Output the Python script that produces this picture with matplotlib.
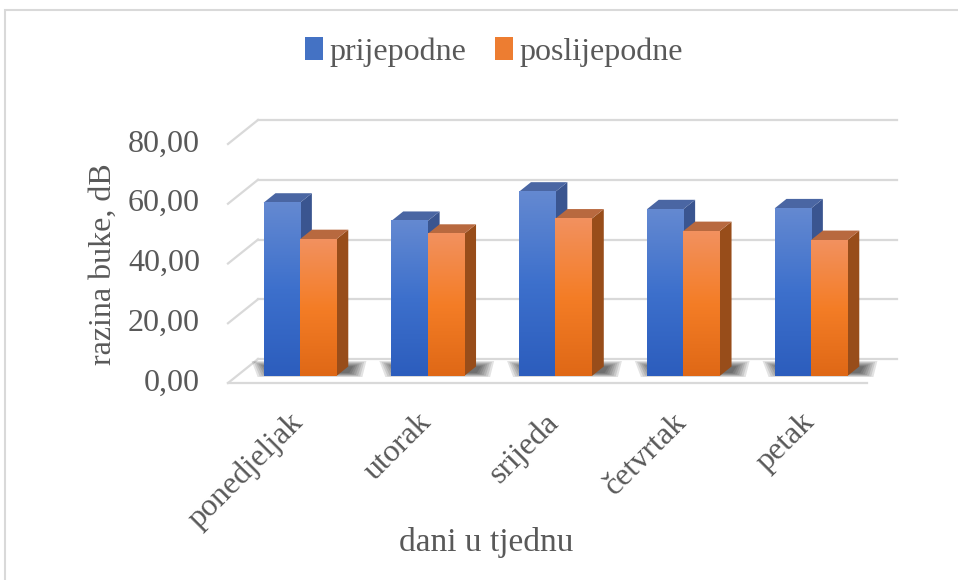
import numpy as np
import matplotlib
matplotlib.use('Agg')
import matplotlib.pyplot as plt
from matplotlib.patches import Polygon, Rectangle, Patch
from matplotlib.colors import LinearSegmentedColormap

# podaci
dani = ['ponedjeljak', 'utorak', 'srijeda', 'četvrtak', 'petak']
prijepodne = [58.0, 51.9, 61.7, 55.8, 56.1]
poslijepodne = [45.8, 47.6, 52.7, 48.5, 45.5]
y_ticks = [0, 20, 40, 60, 80]
y_tick_labels = ['0,00', '20,00', '40,00', '60,00', '80,00']

plt.rcParams['font.family'] = ['Liberation Serif', 'DejaVu Serif']
TXT = '#595959'
GRID = '#d9d9d9'
FS = 23

W, H = 958, 580
fig = plt.figure(figsize=(W / 100, H / 100), dpi=100)
ax = fig.add_axes([0, 0, 1, 1])

# skale: px po jedinici
sx = 127.75
sy = 2.9875
x0px, y0px = 300, 376
ax.set_xlim(-x0px / sx, (W - x0px) / sx)
ax.set_ylim((y0px - H) / sy, y0px / sy)
ax.axis('off')


def depth(d):
    """pomak u dubinu (d px okomito) -> pomak u jedinicama podataka"""
    return d * 1.25 / sx, d / sy


bw = 0.285
bar_dx, bar_dy = depth(9.5)
fl_dx, fl_dy = depth(-7)
wall_dx, wall_dy = depth(17)
left_front = (228 - x0px) / sx
right_front = (867 - x0px) / sx
left_back = left_front + wall_dx - fl_dx
right_back = (897 - x0px) / sx

# zidovi i mreža
for v, lab in zip(y_ticks, y_tick_labels):
    yb = v + wall_dy
    ax.plot([left_back, right_back], [yb, yb], color=GRID, lw=1.6, zorder=1)
    ax.plot([left_front, left_back], [v + fl_dy, yb], color=GRID, lw=1.6, zorder=1)
    ax.text(left_front - 28 / sx, v + fl_dy, lab,
            ha='right', va='center', fontsize=FS, color=TXT)
ax.plot([left_front, right_front], [fl_dy, fl_dy], color=GRID, lw=1.6, zorder=1)

blue_front = LinearSegmentedColormap.from_list('bf', ['#2c5dbd', '#3d70cc', '#6489d1'])
orange_front = LinearSegmentedColormap.from_list('of', ['#df6816', '#f47d26', '#f2915f'])
grad = np.linspace(0, 1, 128).reshape(-1, 1)[::-1]


def shadow(xa, xb):
    # mekana sjena na podu (slojevi)
    for k in range(7):
        e = k * 2.2
        pts = [(xa + (-6 + e) / sx, (-1 + e * 0.3) / sy),
               (xb + (26 - e) / sx, (-1 + e * 0.3) / sy),
               (xb + (30 - e) / sx, (15 - e * 0.4) / sy),
               (xa + (-12 + e) / sx, (15 - e * 0.4) / sy)]
        ax.add_patch(Polygon(pts, closed=True, fc='black', ec='none',
                             alpha=0.11, zorder=2))


def bar3d(xl, v, cmap, side_col, top_col, z):
    xr = xl + bw
    # bočna strana
    ax.add_patch(Polygon([(xr, 0), (xr + bar_dx, bar_dy), (xr + bar_dx, v + bar_dy), (xr, v)],
                         closed=True, fc=side_col, ec='none', zorder=z))
    # gornja strana
    ax.add_patch(Polygon([(xl, v), (xr, v), (xr + bar_dx, v + bar_dy), (xl + bar_dx, v + bar_dy)],
                         closed=True, fc=top_col, ec='none', zorder=z))
    # prednja strana s gradijentom
    ax.imshow(grad, extent=[xl, xr, 0, v], aspect='auto', cmap=cmap,
              interpolation='bilinear', zorder=z + 0.5)


for i in range(len(dani)):
    shadow(i - bw, i + bw)
    bar3d(i - bw, prijepodne[i], blue_front, '#3a5590', '#4a66a3', 3 + i * 2)
    bar3d(i, poslijepodne[i], orange_front, '#984d1a', '#b8693f', 4 + i * 2)

ax.set_xlim(-x0px / sx, (W - x0px) / sx)
ax.set_ylim((y0px - H) / sy, y0px / sy)

# oznake kategorija
for i, d in enumerate(dani):
    ax.text(i - 1 / sx, -42 / sy, d, rotation=45, rotation_mode='anchor',
            ha='right', va='center', fontsize=FS, color=TXT)

fig.text(486 / W, 1 - 542 / H, 'dani u tjednu', ha='center', va='center',
         fontsize=24, color=TXT)
fig.text(103 / W, 1 - 264 / H, 'razina buke, dB', ha='center', va='center',
         rotation=90, fontsize=FS, color=TXT)

handles = [Patch(fc='#4472c4', ec='none'), Patch(fc='#ed7d31', ec='none')]
fig.legend(handles, ['prijepodne', 'poslijepodne'], loc='center',
           bbox_to_anchor=(494 / W, 1 - 52 / H), ncol=2, frameon=False,
           fontsize=FS, handlelength=0.55, handleheight=0.72,
           handletextpad=0.2, columnspacing=0.9, labelcolor=TXT)

fig.add_artist(Rectangle((5 / W, -0.1), 2, 1 - 10 / H + 0.1, transform=fig.transFigure,
                         fill=False, ec=GRID, lw=1.5))

fig.savefig('out.png', dpi=100)
